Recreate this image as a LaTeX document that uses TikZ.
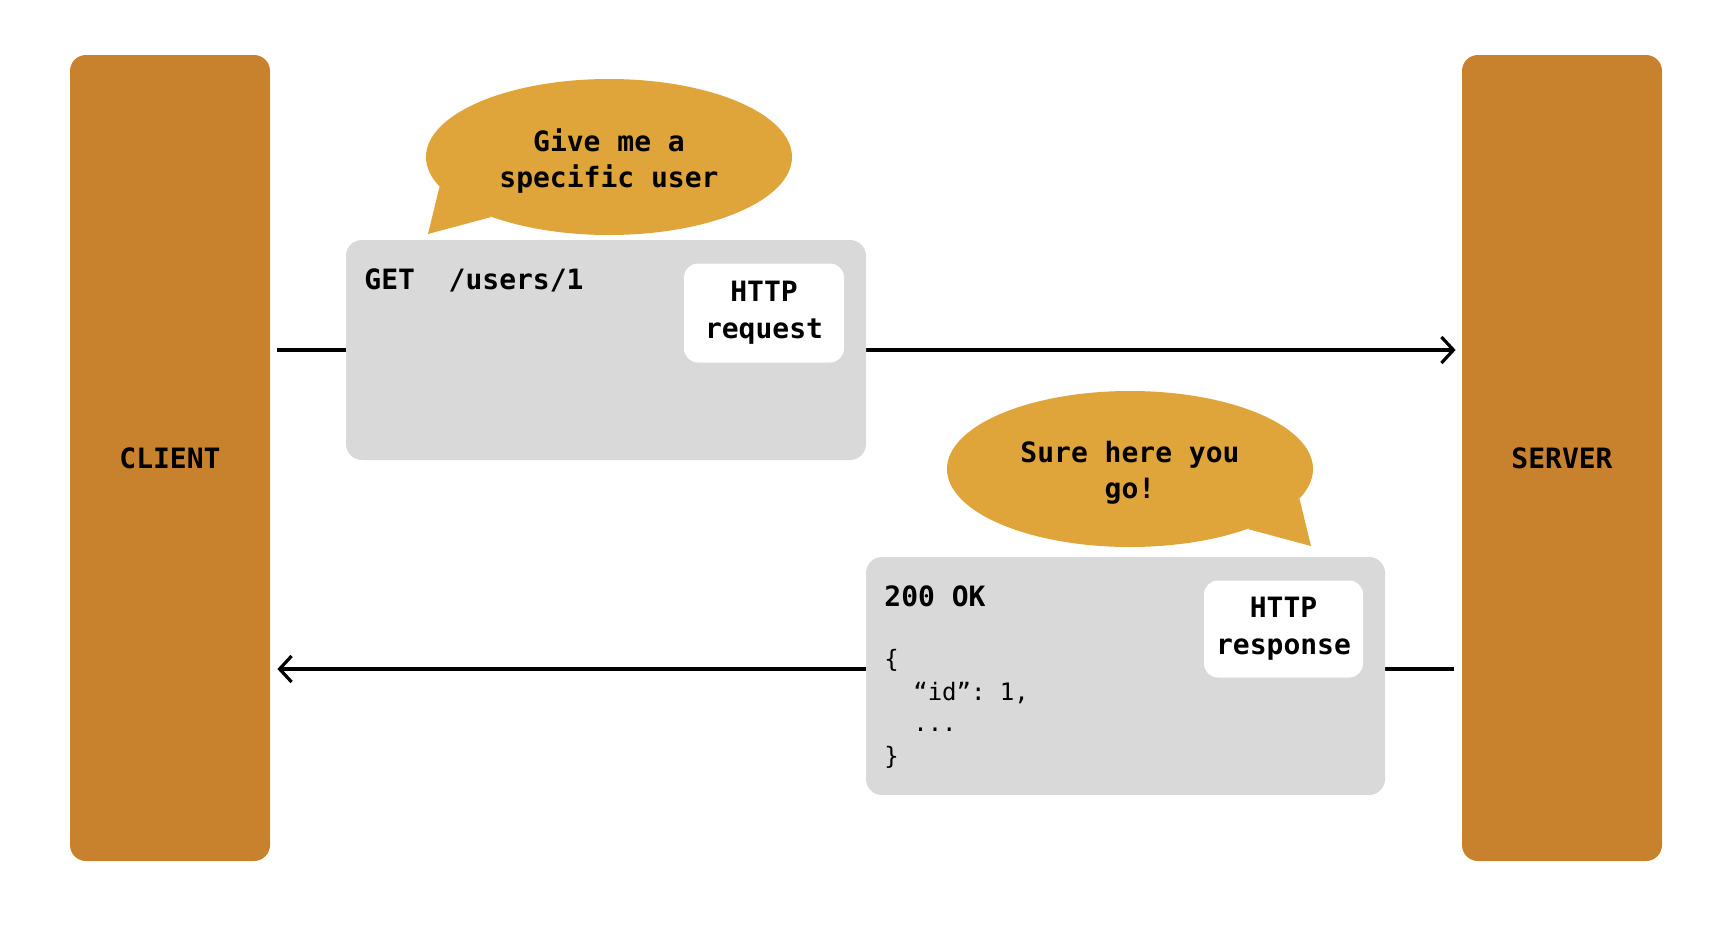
\documentclass[tikz,border=0pt]{standalone}
\usepackage{fontspec}
\setmonofont{DejaVu Sans Mono}
\usetikzlibrary{shapes.geometric,arrows.meta,backgrounds}

\definecolor{barorange}{RGB}{200,130,46}
\definecolor{bubbleyellow}{RGB}{223,164,58}
\definecolor{msggray}{RGB}{217,217,217}

\tikzset{
  bar/.style={rectangle,rounded corners=8pt,fill=barorange,minimum width=100pt,minimum height=403pt,
    font=\ttfamily\bfseries\fontsize{14}{18}\selectfont},
  msg/.style={rectangle,rounded corners=8pt,fill=msggray,inner sep=0pt},
  tag/.style={rectangle,rounded corners=7pt,fill=white,inner sep=0pt,align=center,
    font=\ttfamily\bfseries\fontsize{14}{18.5}\selectfont},
  bubble/.style={ellipse,fill=bubbleyellow,inner sep=0pt,align=center,minimum width=183pt,minimum height=78pt,
    font=\ttfamily\bfseries\fontsize{14}{18}\selectfont},
  head/.style={anchor=west,inner sep=0pt,font=\ttfamily\bfseries\fontsize{14}{18}\selectfont},
  body/.style={anchor=west,inner sep=0pt,font=\ttfamily\fontsize{12}{16}\selectfont},
  flow/.style={line width=1.6pt,-{Straight Barb[length=6pt,width=13pt]}},
}

\begin{document}
\begin{tikzpicture}[x=0.5pt,y=-0.5pt]
  \useasboundingbox (0,0) rectangle (1726,932);

  % client and server
  \node[bar] (client) at (170,458) {CLIENT};
  \node[bar] (server) at (1562,458) {SERVER};

  % request
  \node[msg,minimum width=260pt,minimum height=110pt] (req) at (606,350) {};
  \node[tag,minimum width=80pt,minimum height=49.5pt] (reqtag) at (764,313) {HTTP\\request};
  \node[head] (reqline) at (364,280) {GET~~/users/1};

  % response
  \node[msg,minimum width=259.5pt,minimum height=119pt] (res) at (1125.5,676) {};
  \node[tag,minimum width=79.5pt,minimum height=48.5pt] (restag) at (1283.5,629) {HTTP\\response};
  \node[head] (status) at (884,596) {200 OK};
  \node[body] (open) at (884,660) {\{};
  \node[body] (field) at (884,693) {~~“id”: 1,};
  \node[body] (more) at (884,730) {~~...};
  \node[body] (close) at (884,757) {\}};

  % arrows behind the messages
  \coordinate (there) at (0,350);
  \coordinate (back) at (0,669);
  \begin{scope}[on background layer]
    \draw[flow,shorten <=3.5pt,shorten >=3pt] (client.east |- there) -- (server.west |- there);
    \draw[flow,shorten <=4pt,shorten >=3.5pt] (server.west |- back) -- (client.east |- back);
  \end{scope}

  % speech bubbles
  \node[bubble] (ask) at (609,157) {};
  \node[align=center,font=\ttfamily\bfseries\fontsize{14}{18}\selectfont] (asktext) at (609,161) {Give me a\\specific user};
  \coordinate (askTip) at (428,234);
  \fill[bubbleyellow] (ask.190) -- (askTip) -- (ask.207) -- cycle;

  \node[bubble] (reply) at (1130,469) {};
  \node[align=center,font=\ttfamily\bfseries\fontsize{14}{18}\selectfont] (replytext) at (1130,473) {Sure here you\\go!};
  \coordinate (replyTip) at (1311,546);
  \fill[bubbleyellow] (reply.350) -- (replyTip) -- (reply.333) -- cycle;
\end{tikzpicture}
\end{document}
